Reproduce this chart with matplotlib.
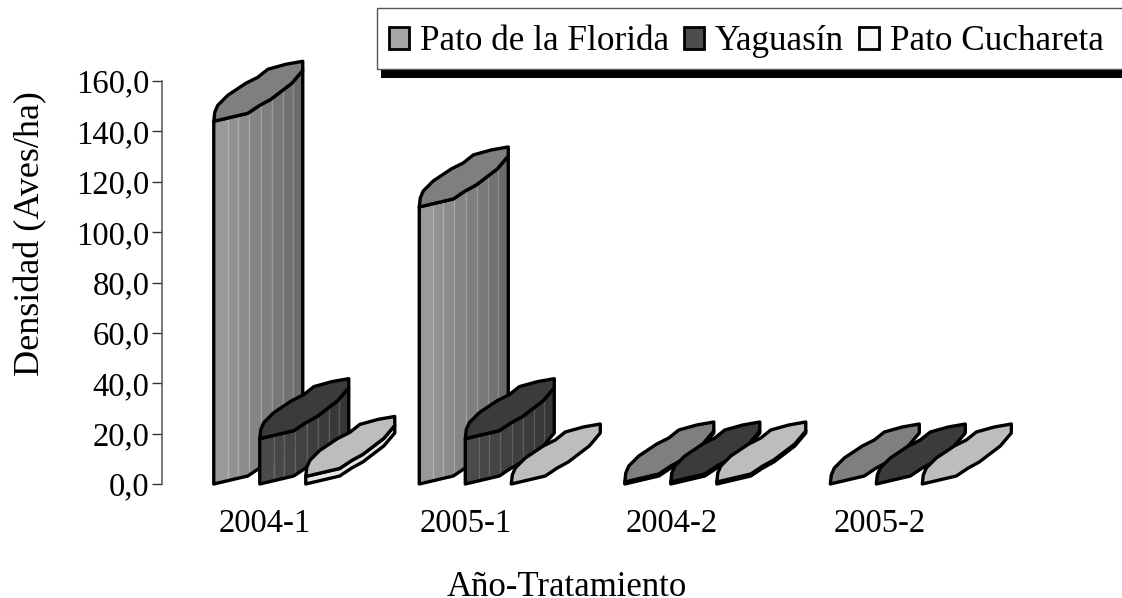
import matplotlib
matplotlib.use('Agg')
import matplotlib.pyplot as plt
import numpy as np
from matplotlib.patches import Polygon, Patch, Rectangle

categories = ['2004-1', '2005-1', '2004-2', '2005-2']
florida = [144.0, 110.0, 0.8, 0.0]
yaguasin = [18.0, 18.0, 0.8, 0.0]
cuchareta = [3.0, 0.0, 0.8, 0.0]
series_names = ['Pato de la Florida', 'Yaguasín', 'Pato Cuchareta']
y_ticks = [0, 20, 40, 60, 80, 100, 120, 140, 160]

W, H = 1122, 598
AX_L, AX_R, AX_T, AX_B = 162, 982, 81, 484

# outline of the slanted cylinder in pixels, from the front left corner
FRONT = np.array([(0, 0), (34, 8), (46, 16), (57, 22), (78, 38), (89, 51)], dtype=float)
BACK = np.array([(89, 60), (72, 57), (54, 52), (44, 44), (32, 38), (14, 26), (4, 16), (1, 9)], dtype=float)
OFFSETS = [-51, -5, 41]
STRIPS = [0, 14, 24, 35, 47, 58, 69, 79, 89]


def to_data(ax, cat, val, dx, dy):
    # pixel offsets to data units
    sx = (AX_R - AX_L) / (ax.get_xlim()[1] - ax.get_xlim()[0])
    sy = (AX_B - AX_T) / (ax.get_ylim()[1] - ax.get_ylim()[0])
    return np.column_stack([cat + np.asarray(dx) / sx, val + np.asarray(dy) / sy])


def draw_bar(ax, cat, val, off, side, top, z):
    xs = np.array(STRIPS, dtype=float)
    low = np.interp(xs, FRONT[:, 0], FRONT[:, 1])
    sy = (AX_B - AX_T) / 160.0
    hgt = val * sy
    greys = np.linspace(side[0], side[1], len(xs) - 1)
    if val > 0:
        # shaded strips of the body
        for i in range(len(xs) - 1):
            dx = [xs[i] + off, xs[i + 1] + off, xs[i + 1] + off, xs[i] + off]
            dy = [low[i], low[i + 1], low[i + 1] + hgt, low[i] + hgt]
            ax.add_patch(Polygon(to_data(ax, cat, 0, dx, dy), closed=True, fc=str(greys[i]),
                                 ec=str(greys[i]), lw=0.3, clip_on=False, zorder=z))
            if i > 0 and hgt > 20:
                ax.plot(*to_data(ax, cat, 0, [xs[i] + off] * 2, [low[i], low[i] + hgt]).T,
                        color=str(min(greys[i] + 0.13, 1)), lw=0.9, clip_on=False, zorder=z + 0.1)
        # body outline
        dx = np.r_[FRONT[:, 0], FRONT[::-1, 0]] + off
        dy = np.r_[FRONT[:, 1], FRONT[::-1, 1] + hgt]
        ax.add_patch(Polygon(to_data(ax, cat, 0, dx, dy), closed=True, fill=False, ec='black',
                             lw=2.4, joinstyle='round', clip_on=False, zorder=z + 0.2))
    # top face
    ring = np.vstack([FRONT, BACK])
    ax.add_patch(Polygon(to_data(ax, cat, val, ring[:, 0] + off, ring[:, 1]), closed=True, fc=top,
                         ec='black', lw=2.4, joinstyle='round', clip_on=False, zorder=z + 0.3))


plt.rcParams['font.family'] = ['Liberation Serif', 'DejaVu Serif']
fig = plt.figure(figsize=(W / 100, H / 100), dpi=100)
ax = fig.add_axes([AX_L / W, 1 - AX_B / H, (AX_R - AX_L) / W, (AX_B - AX_T) / H])
ax.set_xlim(-0.5, 3.49)
ax.set_ylim(0, 160)

side_greys = [(0.60, 0.42), (0.29, 0.21), (0.90, 0.90)]
top_colors = ['#7f7f7f', '#3b3b3b', '#bdbdbd']
z = 3
for c in range(len(categories)):
    for s, vals in enumerate([florida, yaguasin, cuchareta]):
        draw_bar(ax, c, vals[c], OFFSETS[s], side_greys[s], top_colors[s], z)
        z += 1

for sp in ['top', 'right', 'bottom']:
    ax.spines[sp].set_visible(False)
ax.spines['left'].set_color('#555555')
ax.spines['left'].set_linewidth(1.1)
ax.set_yticks(y_ticks)
ax.set_yticklabels([f'{v:.1f}'.replace('.', ',') for v in y_ticks], fontsize=23.5)
ax.tick_params(axis='y', length=7, width=1.0, color='#333333', pad=2)
# label centres sit slightly off the even bar spacing in the original
ax.set_xticks([0, 0.98, 1.98, 2.99])
ax.set_xticklabels(categories, fontsize=23.5)
ax.tick_params(axis='x', length=0, pad=18)
fig.text(567 / W, 1 - 596 / H, 'Año-Tratamiento', fontsize=25, ha='center', va='baseline')
fig.text(31 / W, 1 - 234 / H, 'Densidad (Aves/ha)', fontsize=26, rotation=90, ha='center', va='center')

# legend box runs off the right edge, with a hard black shadow under it
fig.add_artist(Rectangle((381 / W, 1 - 78 / H), (W - 381) / W, 9 / H, transform=fig.transFigure,
                         fc='black', ec='none'))
fig.add_artist(Rectangle((376.5 / W, 1 - 69 / H), (W + 10 - 376) / W, 61 / H, transform=fig.transFigure,
                         fc='white', ec='#555555', lw=1.0))
handles = [Patch(fc='#a6a6a6', ec='black', lw=2), Patch(fc='#4d4d4d', ec='black', lw=2),
           Patch(fc='#fafafa', ec='black', lw=2)]
leg = fig.legend(handles, series_names, ncol=3, loc='upper left', bbox_to_anchor=(389 / W, 1 - 25 / H),
                 fontsize=25.3, frameon=False, handlelength=0.58, handleheight=0.58, handletextpad=0.3,
                 columnspacing=0.42, borderpad=0, borderaxespad=0)

fig.savefig('out.png', dpi=100)
